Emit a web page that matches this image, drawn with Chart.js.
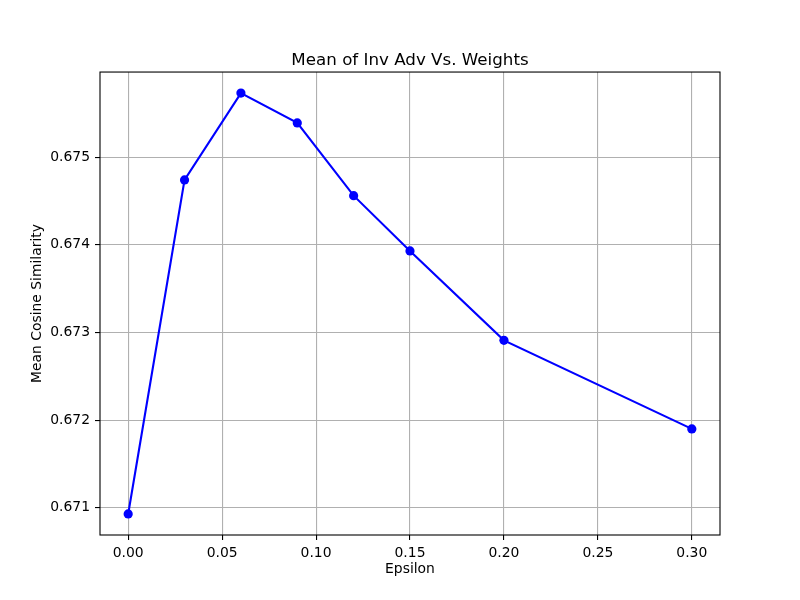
<!DOCTYPE html>
<html>
<head>
<meta charset="utf-8">
<script src="https://cdn.jsdelivr.net/npm/chart.js@4"></script>
<style>
  html, body { margin: 0; padding: 0; background: #fff; }
  canvas { display: block; }
</style>
</head>
<body>
<canvas id="chart" width="800" height="600"></canvas>
<script>
// Data
const epsilons = [0.00, 0.03, 0.06, 0.09, 0.12, 0.15, 0.20, 0.30];
const meanCosine = [0.67093, 0.67474, 0.67573, 0.67539, 0.67456, 0.67393, 0.67291, 0.67190];
const xTicks = [0.00, 0.05, 0.10, 0.15, 0.20, 0.25, 0.30];
const yTicks = [0.671, 0.672, 0.673, 0.674, 0.675];

const font = 'DejaVu Sans';

// draw the box round the plot area (matplotlib spines)
const frame = {
    id: 'frame',
    afterDraw(chart) {
        let {ctx, chartArea: a} = chart;
        ctx.save();
        ctx.strokeStyle = '#000';
        ctx.lineWidth = 1.1;
        ctx.strokeRect(a.left, a.top, a.right - a.left, a.bottom - a.top);
        ctx.restore();
    }
};

new Chart(document.getElementById('chart').getContext('2d'), {
    type: 'line',
    data: {
        datasets: [{
            data: epsilons.map((x, i) => ({x: x, y: meanCosine[i]})),
            borderColor: '#0000ff',
            backgroundColor: '#0000ff',
            borderWidth: 2.1,
            pointRadius: 4.6,
            pointHoverRadius: 4.6,
            pointBorderWidth: 0,
            tension: 0,
            fill: false
        }]
    },
    options: {
        responsive: false,
        animation: false,
        devicePixelRatio: 1,
        // left padding + empty right axis keep the title centred over the plot
        layout: { padding: { left: 20, right: 0, top: 0, bottom: 0 } },
        plugins: {
            legend: { display: false },
            tooltip: { enabled: false },
            title: {
                display: true,
                text: 'Mean of Inv Adv Vs. Weights',
                color: '#000',
                font: { family: font, size: 16.7, weight: 'normal' },
                padding: { top: 50.5, bottom: 1.5 }
            }
        },
        scales: {
            x: {
                type: 'linear',
                min: -0.015,
                max: 0.315,
                afterFit: s => { s.height = 65; },
                afterBuildTicks: s => { s.ticks = xTicks.map(v => ({value: v})); },
                grid: { color: '#b0b0b0', lineWidth: 1.1, tickColor: '#000', tickLength: 5 },
                border: { display: false },
                ticks: {
                    color: '#000',
                    padding: 5,
                    maxRotation: 0,
                    font: { family: font, size: 13.9 },
                    callback: v => v.toFixed(2)
                },
                title: {
                    display: true,
                    text: 'Epsilon',
                    color: '#000',
                    font: { family: font, size: 13.9 },
                    padding: { top: 0, bottom: 22.7 }
                }
            },
            y: {
                type: 'linear',
                min: 0.67069,
                max: 0.67597,
                afterFit: s => { s.width = 80; },
                afterBuildTicks: s => { s.ticks = yTicks.map(v => ({value: v})); },
                grid: { color: '#b0b0b0', lineWidth: 1.1, tickColor: '#000', tickLength: 5 },
                border: { display: false },
                ticks: {
                    color: '#000',
                    padding: 5,
                    font: { family: font, size: 13.9 },
                    callback: v => v.toFixed(3)
                },
                title: {
                    display: true,
                    text: 'Mean Cosine Similarity',
                    color: '#000',
                    font: { family: font, size: 13.9 },
                    padding: { top: 8.7, bottom: 0 }
                }
            },
            yRight: {
                type: 'linear',
                position: 'right',
                min: 0,
                max: 1,
                afterFit: s => { s.width = 80; },
                grid: { display: false },
                border: { display: false },
                ticks: { display: false }
            }
        }
    },
    plugins: [frame]
});
</script>
</body>
</html>
